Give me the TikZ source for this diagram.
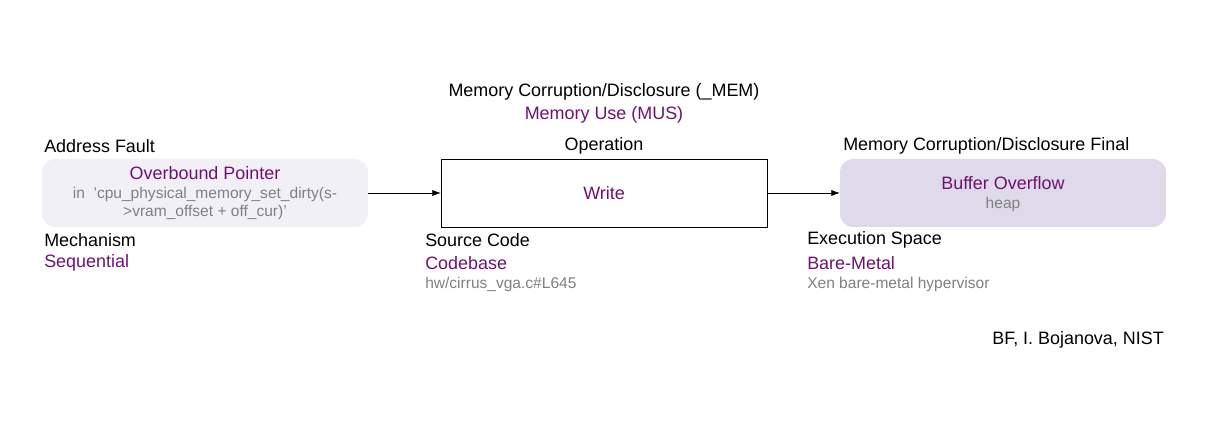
\documentclass[tikz,border=0pt]{standalone}
\usepackage{fontspec}
\setmainfont{Liberation Sans}
\usepackage{tikz}
\usetikzlibrary{arrows.meta}
\definecolor{bfpurple}{RGB}{112,16,112}
\definecolor{bfgray}{RGB}{128,128,128}
\definecolor{bflight}{RGB}{242,240,247}
\definecolor{bfdark}{RGB}{222,218,234}

\begin{document}
\begin{tikzpicture}[x=0.02646cm, y=-0.02646cm, every node/.style={font=\fontsize{13.5}{16}\selectfont, inner sep=0pt}, >={Latex[length=2.2mm, width=1.6mm]},
	hdr/.style={black}, val/.style={bfpurple}, note/.style={bfgray, font=\fontsize{11.7}{14}\selectfont},
	box/.style={minimum width=326*0.02646cm, minimum height=68*0.02646cm, rounded corners=10pt}]
	\useasboundingbox (0,0) rectangle (1207,427);
	\node[box, fill=bflight] (fault) at (205,193) {};
	\node[box, rounded corners=0pt, draw=black, fill=white] (oper) at (604,193) {};
	\node[box, fill=bfdark] (final) at (1003,193) {};
	\draw[->] (fault) -- (oper);
	\draw[->] (oper) -- (final);
	\node[hdr] (clsname) at (604,92) {Memory Corruption/Disclosure (\_MEM)};
	\node[val] (clsop) at (604,115) {Memory Use (MUS)};
	\node[hdr, anchor=west] (faultlbl) at (44,146) {Address Fault};
	\node[val] (faultval) at (205,173) {Overbound Pointer};
	\node[note] (faultin1) at (205,194) {in\ \ 'cpu\_physical\_memory\_set\_dirty(s-};
	\node[note] (faultin2) at (205,212) {>vram\_offset + off\_cur)'};
	\node[hdr, anchor=west] (mechlbl) at (44,240) {Mechanism};
	\node[val, anchor=west] (mechval) at (44,263) {Sequential};
	\node[hdr] (operlbl) at (604,146) {Operation};
	\node[val] (operval) at (oper) {Write};
	\node[hdr, anchor=west] (srclbl) at (425,240) {Source Code};
	\node[val, anchor=west] (srcval) at (425,263) {Codebase};
	\node[note, anchor=west] (srcnote) at (425,284) {hw/cirrus\_vga.c\#L645};
	\node[hdr, anchor=west] (finallbl) at (843,146) {Memory Corruption/Disclosure Final};
	\node[val] (finalval) at (1003,183) {Buffer Overflow};
	\node[note] (finalnote) at (1003,204) {heap};
	\node[hdr, anchor=west] (execlbl) at (807,240) {Execution Space};
	\node[val, anchor=west] (execval) at (807,263) {Bare-Metal};
	\node[note, anchor=west] (execnote) at (807,284) {Xen bare-metal hypervisor};
	\node[hdr, anchor=east] (credit) at (1164,340) {BF, I. Bojanova, NIST};
\end{tikzpicture}
\end{document}
